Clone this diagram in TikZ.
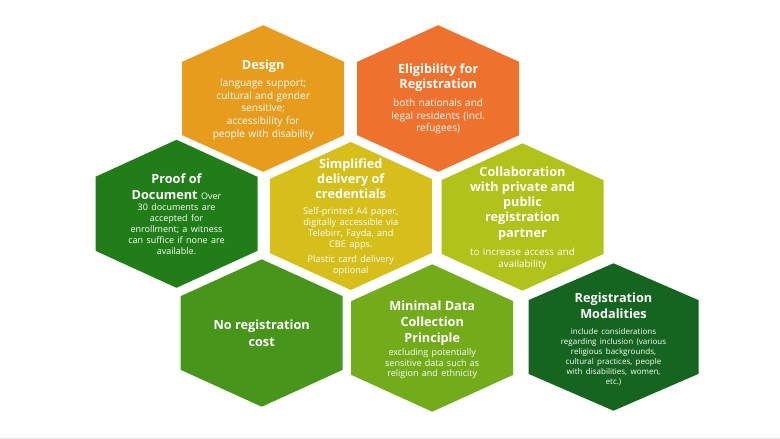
\documentclass[tikz,border=0pt]{standalone}
\usepackage{fontspec}
\setmainfont{Open Sans}
\definecolor{cdesign}{HTML}{E89C1E}
\definecolor{celig}{HTML}{EE712E}
\definecolor{cproof}{HTML}{217D18}
\definecolor{csimp}{HTML}{D6BF1A}
\definecolor{ccoll}{HTML}{B1C31A}
\definecolor{cnoreg}{HTML}{47951A}
\definecolor{cmin}{HTML}{73AC1B}
\definecolor{cmod}{HTML}{156420}
\definecolor{cband}{HTML}{E9EAEC}
\newcommand{\ttl}[1]{{\fontsize{12.7}{14.8}\selectfont\bfseries #1\par}}
\newcommand{\bdy}[2][10.1]{{\fontsize{#1}{12.6}\selectfont #2\par}}
% name, cx, cy, half width, half height, colour
\newcommand{\hexa}[6]{%
  \fill[#6] (#2-#4,#3-#5/2) -- (#2,#3-#5) -- (#2+#4,#3-#5/2) -- (#2+#4,#3+#5/2) -- (#2,#3+#5) -- (#2-#4,#3+#5/2) -- cycle;
  \coordinate (#1) at (#2,#3);}
\tikzset{hextext/.style={text=white,align=center,inner sep=0pt,text width=#1},hextext/.default=150pt}
\begin{document}
\begin{tikzpicture}[x=1pt,y=-1pt]
\useasboundingbox (0,0) rectangle (780,439);
\fill[white] (0,0) rectangle (780,439);
\fill[cband] (0,437.5) rectangle (780,439);
\hexa{design}{263.2}{98.5}{81}{73.3}{cdesign}
\hexa{elig}{438.2}{98.5}{81}{73.3}{celig}
\hexa{proof}{176.5}{213.8}{81}{74}{cproof}
\hexa{simp}{350.8}{216}{81}{74}{csimp}
\hexa{coll}{522.5}{217}{81}{73.7}{ccoll}
\hexa{noreg}{261.7}{333}{81}{73.7}{cnoreg}
\hexa{mini}{432.2}{338}{81}{73.7}{cmin}
\hexa{mods}{613.5}{337}{85}{73.7}{cmod}
\node[hextext] (tdesign) at (design|-0,99.8) {\ttl{Design}\vspace{4.5pt}\bdy{language support;\\cultural and gender\\sensitive;\\accessibility for\\people with disability}};
\node[hextext] (telig) at (elig|-0,99.2) {\ttl{Eligibility for\\Registration}\vspace{5.5pt}\bdy{both nationals and\\legal residents (incl.\\refugees)}};
\node[hextext] (tproof) at (proof|-0,214.5) {{\fontsize{12.7}{16}\selectfont\bfseries Proof of\\Document {\mdseries\fontsize{9}{11}\selectfont Over}\par}\bdy[9]{\fontsize{9}{11}\selectfont 30 documents are\\accepted for\\enrollment; a witness\\can suffice if none are\\available.}};
\node[hextext] (tsimp) at (simp|-0,217) {\ttl{Simplified\\delivery of\\credentials}\vspace{5pt}{\fontsize{9.2}{11}\selectfont Self-printed A4 paper,\\digitally accessible via\\Telebirr, Fayda, and\\CBE apps.\par}\vspace{4pt}{\fontsize{9.2}{11}\selectfont Plastic card delivery\\optional\par}};
\node[hextext] (tcoll) at (coll|-0,218) {{\fontsize{12.7}{15.3}\selectfont\bfseries Collaboration\\with private and\\public\\registration\\partner\par}\vspace{6pt}{\fontsize{9.8}{12}\selectfont to increase access and\\availability\par}};
\node[hextext] (tnoreg) at (noreg|-0,333) {{\fontsize{12.7}{16.8}\selectfont\bfseries No registration\\cost\par}};
\node[hextext] (tmini) at (mini|-0,340) {{\fontsize{12.7}{16.2}\selectfont\bfseries Minimal Data\\Collection\\Principle\par}\vspace{1.5pt}{\fontsize{9}{10.8}\selectfont excluding potentially\\sensitive data such as\\religion and ethnicity\par}};
\node[hextext] (tmods) at (mods|-0,339) {{\fontsize{12.7}{16.3}\selectfont\bfseries Registration\\Modalities\par}\vspace{6pt}{\fontsize{8}{10}\selectfont include considerations\\regarding inclusion (various\\religious backgrounds,\\cultural practices, people\\with disabilities, women,\\etc.)\par}};
\end{tikzpicture}
\end{document}
